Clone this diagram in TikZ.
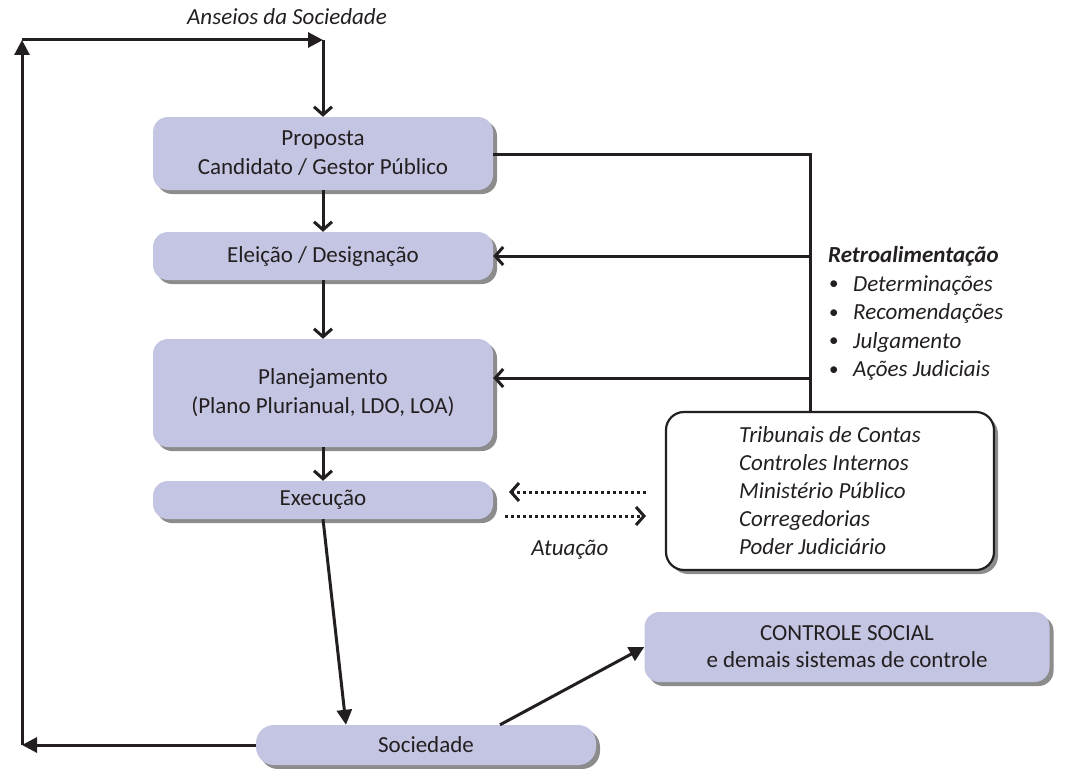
\documentclass[tikz,border=0pt]{standalone}
\usepackage{fontspec}
\setmainfont{Carlito}
\usetikzlibrary{arrows.meta,shadows,calc}
\definecolor{boxfill}{HTML}{C4C5E3}
\definecolor{shade}{HTML}{8C8C8C}
\definecolor{ink}{HTML}{231F20}
\newcommand{\itembullet}{\makebox[25pt][l]{\hspace{1pt}\raisebox{0.12ex}{\fontsize{19}{0}\selectfont •}}}
\begin{document}
\begin{tikzpicture}[x=1pt,y=-1pt,
  every node/.style={font=\fontsize{23}{29}\selectfont, text=ink},
  stage/.style={fill=boxfill, rounded corners=15pt, align=center, inner sep=0pt,
    drop shadow={shadow xshift=4pt, shadow yshift=-4pt, fill=shade, opacity=1}},
  agency/.style={draw=ink, line width=2.2pt, fill=white, rounded corners=18pt,
    align=left, inner sep=0pt, font=\fontsize{23}{28}\selectfont\itshape,
    drop shadow={shadow xshift=4pt, shadow yshift=-4pt, fill=shade, opacity=1}},
  link/.style={draw=ink, line width=3pt},
  flow/.style={link, -{Straight Barb[length=8pt,width=18pt]}},
  push/.style={link, -{Triangle[length=15pt,width=15pt]}},
  probe/.style={draw=ink, line width=3pt, dash pattern=on 3pt off 3pt,
    -{Straight Barb[length=8pt,width=18pt]}},
  note/.style={inner sep=0pt, font=\fontsize{23}{28}\selectfont\itshape},
]
\useasboundingbox (0,0) rectangle (1070,768);

% main process chain
\node[stage, minimum width=340pt, minimum height=73pt] (prop) at (323,153.5)
  {Proposta\\Candidato / Gestor Público};
\node[stage, minimum width=340pt, minimum height=48pt] (elei) at (323,256)
  {Eleição / Designação};
\node[stage, minimum width=340pt, minimum height=108pt] (plan) at (323,393)
  {Planejamento\\(Plano Plurianual, LDO, LOA)};
\node[stage, minimum width=340pt, minimum height=38pt] (exec) at (323,500)
  {Execução};
\node[stage, minimum width=340pt, minimum height=40pt, rounded corners=18pt] (soc) at (426,745)
  {Sociedade};
\node[stage, minimum width=405pt, minimum height=70pt, font=\fontsize{23}{27}\selectfont] (ctrl) at (847,647)
  {CONTROLE SOCIAL\\e demais sistemas de controle};

% control bodies
\node[agency, minimum width=328pt, minimum height=158pt] (trib) at (830,491)
  {Tribunais de Contas\\Controles Internos\\Ministério Público\\Corregedorias\\Poder Judiciário};

% labels
\node[note] (anseios) at (287,17) {Anseios da Sociedade};
\node[note] (atua) at (570,550) {Atuação};
\node[note, anchor=base west, align=left, font=\fontsize{23}{28.4}\selectfont] (retro) at (828,376.5)
  {\textbf{\textit{Retroalimentação}}\\
   \itembullet\textit{Determinações}\\
   \itembullet\textit{Recomendações}\\
   \itembullet\textit{Julgamento}\\
   \itembullet\textit{Ações Judiciais}};

% loop back from society to the top
\coordinate (socLeft) at (22,745);
\coordinate (ansLeft) at (22,40);
\coordinate (ansTop) at (323,40);
\draw[push] (soc.west) -- (socLeft);
\draw[push] (socLeft) -- (ansLeft);
\draw[push] (ansLeft) -- (ansTop);
\draw[flow] (ansTop) -- (prop.north);

% downward chain
\draw[flow] (prop.south) -- (elei.north);
\draw[flow] (elei.south) -- (plan.north);
\draw[flow] (plan.south) -- (exec.north);
\coordinate (socIn) at ($(soc.north)+(-80,0)$);
\draw[push] (exec.south) -- (socIn);
\coordinate (socOut) at ($(soc.north)+(74,0)$);
\draw[push] (socOut) -- (ctrl.west);

% feedback bus
\coordinate (fbTop) at (810,154);
\coordinate (fbBot) at (fbTop |- trib.north);
\coordinate (fbElei) at (fbTop |- elei.east);
\coordinate (fbPlan) at (810,378);
\draw[link] (prop.east |- fbTop) -- (fbTop) -- (fbBot);
\draw[flow] (fbElei) -- (elei.east);
\draw[flow] (fbPlan) -- (fbPlan -| plan.east);

% action between execution and control bodies
\coordinate (pA) at (646,492);
\coordinate (pB) at (509,492);
\coordinate (pC) at (505,516);
\coordinate (pD) at (646,516);
\draw[probe] (pA) -- (pB);
\draw[probe] (pC) -- (pD);
\end{tikzpicture}
\end{document}
